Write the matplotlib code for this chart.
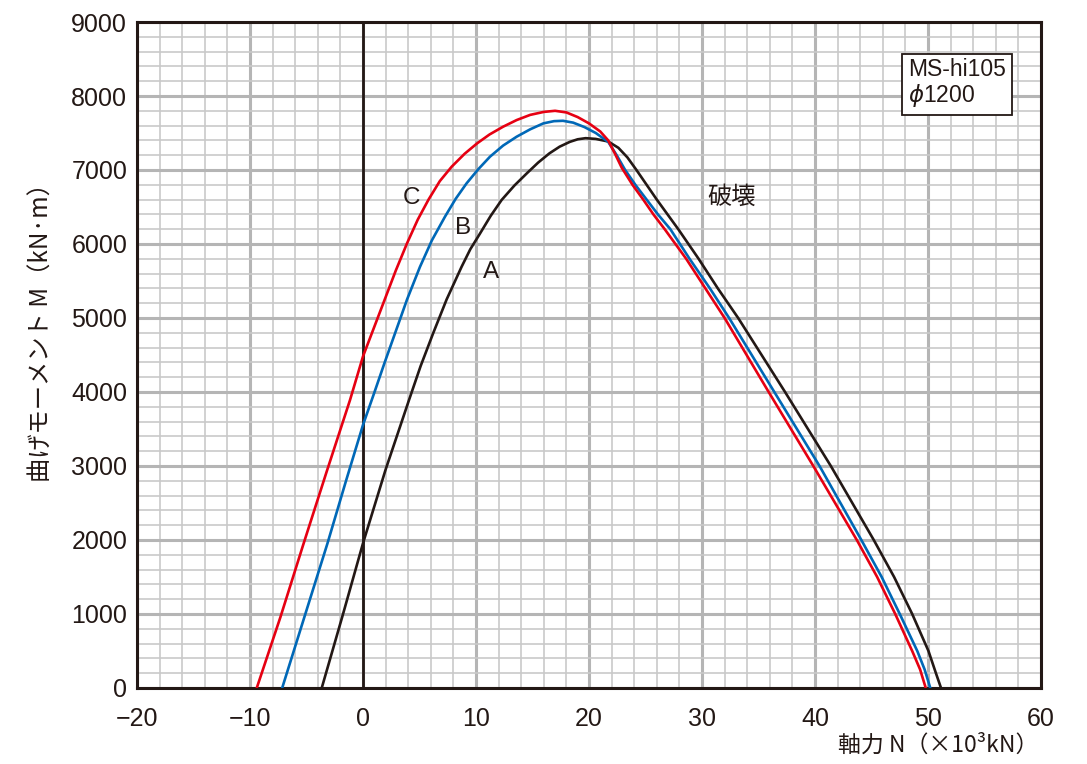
import matplotlib
matplotlib.use("Agg")
import matplotlib.pyplot as plt
from matplotlib.ticker import MultipleLocator

# curve C (red), N in 10^3 kN, M in kN*m
c_n = [-9.4, -7.3, -5.3, -3.2, -1.15, 0.0, 1.0, 1.9, 2.9, 3.9, 4.85, 5.8, 6.8, 7.85,
       9.0, 10.1, 11.2, 12.4, 13.6, 14.8, 16.0, 17.0, 18.0, 19.0, 20.0, 21.0, 21.7,
       22.3, 22.9, 23.85, 24.8, 25.7, 26.7, 28.6, 30.3, 32.0, 35.9, 39.85, 43.7,
       45.5, 47.1, 48.6, 49.3, 49.8]
c_m = [0, 960, 1930, 2930, 3890, 4480, 4880, 5240, 5640, 6010, 6330, 6600, 6850, 7045,
       7220, 7360, 7480, 7585, 7675, 7745, 7785, 7800, 7778, 7715, 7630, 7520, 7400,
       7220, 7030, 6800, 6600, 6400, 6200, 5800, 5400, 5000, 4000, 3000, 2000,
       1500, 1000, 500, 250, 0]

# curve B (blue)
b_n = [-7.15, -5.1, -3.15, -1.5, 0.0, 1.0, 1.9, 2.83, 3.9, 5.04, 6.1, 7.26, 8.2, 9.17,
       10.2, 11.24, 12.4, 13.6, 14.8, 15.96, 16.9, 17.7, 18.6, 19.6, 20.6, 21.7,
       22.45, 23.2, 24.15, 25.1, 26.1, 27.2, 28.9, 30.7, 32.4, 36.4, 40.4, 44.1,
       45.9, 47.5, 49.05, 49.7, 50.2]
b_m = [0, 1000, 1950, 2800, 3554, 3990, 4390, 4790, 5250, 5690, 6050, 6370, 6610, 6820,
       7010, 7180, 7330, 7450, 7550, 7630, 7660, 7665, 7640, 7580, 7500, 7380,
       7200, 7000, 6790, 6600, 6400, 6200, 5800, 5400, 5000, 4000, 3000, 2000,
       1500, 1000, 500, 250, 0]

# curve A (black)
a_n = [-3.65, -1.8, 0.0, 2.0, 4.07, 5.1, 6.2, 7.4, 8.72, 9.5, 10.35, 11.3, 12.27, 13.4,
       14.5, 15.5, 16.5, 17.4, 18.3, 19.0, 19.7, 20.6, 21.7, 22.6, 23.4, 24.2, 25.1,
       26.0, 27.9, 29.7, 31.4, 33.2, 37.35, 41.4, 45.2, 47.0, 48.6, 50.04, 50.7, 51.15]
a_m = [0, 980, 1955, 2950, 3890, 4350, 4790, 5250, 5690, 5930, 6140, 6380, 6595, 6790,
       6955, 7100, 7225, 7315, 7380, 7415, 7430, 7420, 7385, 7300, 7170, 7000, 6800,
       6600, 6200, 5800, 5400, 5000, 4000, 3000, 2000, 1500, 1000, 500, 200, 0]

x_ticks = [-20, -10, 0, 10, 20, 30, 40, 50, 60]
x_ticklabels = ["\u221220", "\u221210", "0", "10", "20", "30", "40", "50", "60"]
y_ticks = [0, 1000, 2000, 3000, 4000, 5000, 6000, 7000, 8000, 9000]

plt.rcParams['font.family'] = ['Liberation Sans', 'Noto Sans CJK JP', 'DejaVu Sans']
ink = '#231815'

fig = plt.figure(figsize=(10.87, 7.64), dpi=100)
ax = fig.add_axes([0.126, 0.0995, 0.8317, 0.8717])

ax.set_xlim(-20, 60)
ax.set_ylim(0, 9000)
ax.xaxis.set_minor_locator(MultipleLocator(2))
ax.yaxis.set_minor_locator(MultipleLocator(200))
ax.set_xticks(x_ticks)
ax.set_xticklabels(x_ticklabels)
ax.set_yticks(y_ticks)
ax.grid(which='minor', color='#c9c9c9', lw=1.2)
ax.grid(which='major', color='#b5b5b5', lw=2.2)
ax.set_axisbelow(True)
ax.tick_params(which='both', length=0, labelsize=18, colors=ink)
ax.tick_params(axis='x', pad=14)
ax.tick_params(axis='y', pad=7)
for s in ax.spines.values():
    s.set_color(ink)
    s.set_linewidth(2.2)

ax.axvline(0, color=ink, lw=2.0, zorder=2)

ax.plot(a_n, a_m, color=ink, lw=1.9, zorder=3)
ax.plot(b_n, b_m, color='#0068b7', lw=1.9, zorder=3)
ax.plot(c_n, c_m, color='#e60012', lw=1.9, zorder=3)

lab = dict(fontsize=17.5, color=ink, ha='center', va='center', zorder=4)
ax.text(4.3, 6620, 'C', **lab)
ax.text(8.85, 6215, 'B', **lab)
ax.text(11.3, 5620, 'A', **lab)
ax.text(32.6, 6640, '破壊', family=['Noto Sans CJK JP'], **lab)

ax.text(0.853, 0.946, 'MS-hi105\n$\\phi$1200', transform=ax.transAxes,
        fontsize=16.5, color=ink, ha='left', va='top', linespacing=1.05, zorder=5,
        bbox=dict(boxstyle='square,pad=0.25', fc='white', ec=ink, lw=1.3))

fig.text(0.038, 0.572, '曲げモーメント M（kN·m）', rotation=90, fontsize=17.5, color=ink,
         ha='center', va='center', family=['Noto Sans CJK JP', 'DejaVu Sans'])
fig.text(0.955, 0.024, '軸力 N（×10³kN）', fontsize=16.5, color=ink,
         ha='right', va='center', family=['Noto Sans CJK JP', 'DejaVu Sans'])

fig.savefig('out.png', dpi=100)
